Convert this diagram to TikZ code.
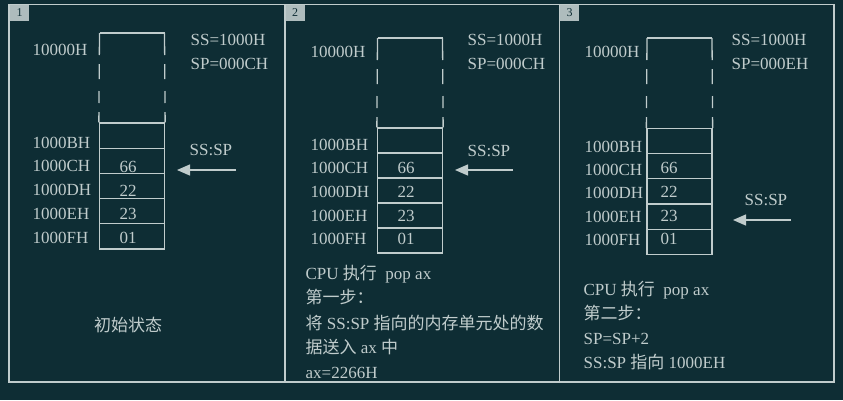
\documentclass[tikz,border=0pt]{standalone}
\usepackage{fontspec}
\setmainfont{Liberation Serif}
\newfontfamily\cjk{Noto Sans CJK SC}
\usetikzlibrary{arrows.meta}
\definecolor{board}{RGB}{14,45,52}
\definecolor{chalk}{RGB}{192,204,204}

\begin{document}
\begin{tikzpicture}[x=1pt,y=-1pt,line width=1.3pt,draw=chalk,
  every node/.style={text=chalk,inner sep=0pt,font=\fontsize{17}{20}\selectfont}]
\tikzstyle{cell}=[draw=chalk, minimum width=65pt, minimum height=25.2pt]
\tikzstyle{addr}=[anchor=west]
\tikzstyle{line}=[anchor=base west]
\tikzstyle{wall}=[dash pattern=on 22pt off 9pt on 15pt off 12pt on 12pt off 9pt on 12pt]
\tikzstyle{tag}=[fill=chalk!90!board, text=board, minimum width=19pt, minimum height=16pt,
  font=\fontsize{12}{12}\selectfont]
\tikzstyle{ptr}=[-{Triangle[length=13pt,width=11pt]}]

\fill[board] (0,0) rectangle (843,400);

% frames
\draw (9,4.5) rectangle (834,382);
\draw (285,4.5) -- (285,382);
\draw (559.5,4.5) -- (559.5,382);
\node[tag] (n1) at (19.5,12.5) {1};
\node[tag] (n2) at (295,12.5) {2};
\node[tag] (n3) at (569.5,12.5) {3};

% panel 1: initial state
\node[cell] (aB) at (132,135.6) {};
\node[cell] (aC) at (132,160.8) {};
\node[cell] (aD) at (132,186.0) {};
\node[cell] (aE) at (132,211.2) {};
\node[cell] (aF) at (132,236.4) {};
\draw (99.5,33) -- (164.5,33);
\draw[wall] (99.5,33) -- (aB.north west);
\draw[wall] (164.5,33) -- (aB.north east);

\node[addr] (a0) at (32, 50) {10000H};
\node[addr] (aBl) at (32,143) {1000BH};
\node[addr] (aCl) at (32,166) {1000CH};
\node[addr] (aDl) at (32,190) {1000DH};
\node[addr] (aEl) at (32,214) {1000EH};
\node[addr] (aFl) at (32,238) {1000FH};
\node (aCv) at (128,167) {66};
\node (aDv) at (128,191) {22};
\node (aEv) at (128,214) {23};
\node (aFv) at (128,238) {01};

\node[addr] (aSS) at (190,40) {SS=1000H};
\node[addr] (aSP) at (190,64) {SP=000CH};
\node[addr] (aPtr) at (189,150) {SS:SP};
\coordinate (aP1) at (236,170);
\coordinate (aP2) at (177,170);
\draw[ptr] (aP1) -- (aP2);
\node[anchor=base] (aTxt) at (128,331.5) {\cjk 初始状态};

% panel 2: pop ax, step one
\node[cell, minimum height=25pt] (bB) at (410,140.5) {};
\node[cell, minimum height=25pt] (bC) at (410,165.5) {};
\node[cell, minimum height=25pt] (bD) at (410,190.5) {};
\node[cell, minimum height=25pt] (bE) at (410,215.5) {};
\node[cell, minimum height=25pt] (bF) at (410,240.5) {};
\draw (377.5,38) -- (442.5,38);
\draw[wall] (377.5,38) -- (bB.north west);
\draw[wall] (442.5,38) -- (bB.north east);

\node[addr] (b0) at (310, 52) {10000H};
\node[addr] (bBl) at (310,145) {1000BH};
\node[addr] (bCl) at (310,168) {1000CH};
\node[addr] (bDl) at (310,192) {1000DH};
\node[addr] (bEl) at (310,216) {1000EH};
\node[addr] (bFl) at (310,239) {1000FH};
\node (bCv) at (406,168) {66};
\node (bDv) at (406,192) {22};
\node (bEv) at (406,216) {23};
\node (bFv) at (406,239) {01};

\node[addr] (bSS) at (467,40) {SS=1000H};
\node[addr] (bSP) at (467,64) {SP=000CH};
\node[addr] (bPtr) at (467,151) {SS:SP};
\coordinate (bP1) at (513,170);
\coordinate (bP2) at (455,170);
\draw[ptr] (bP1) -- (bP2);
\node[line] (bT1) at (305,279) {CPU {\cjk 执行}\ \ pop ax};
\node[line] (bT2) at (305,303) {\cjk 第一步：};
\node[line] (bT3) at (305,329) {{\cjk 将} SS:SP {\cjk 指向的内存单元处的数}};
\node[line] (bT4) at (305,353) {{\cjk 据送入} ax {\cjk 中}};
\node[line] (bT5) at (305,378) {ax=2266H};

% panel 3: pop ax, step two
\node[cell] (cB) at (679.5,141.0) {};
\node[cell] (cC) at (679.5,166.2) {};
\node[cell] (cD) at (679.5,191.4) {};
\node[cell] (cE) at (679.5,216.6) {};
\node[cell] (cF) at (679.5,241.8) {};
\draw (647,38) -- (712,38);
\draw[wall] (647,38) -- (cB.north west);
\draw[wall] (712,38) -- (cB.north east);

\node[addr] (c0) at (584, 52) {10000H};
\node[addr] (cBl) at (584,147) {1000BH};
\node[addr] (cCl) at (584,170) {1000CH};
\node[addr] (cDl) at (584,193) {1000DH};
\node[addr] (cEl) at (584,217) {1000EH};
\node[addr] (cFl) at (584,240) {1000FH};
\node (cCv) at (669,168) {66};
\node (cDv) at (669,192) {22};
\node (cEv) at (669,216) {23};
\node (cFv) at (669,239) {01};

\node[addr] (cSS) at (731,40) {SS=1000H};
\node[addr] (cSP) at (731,64) {SP=000EH};
\node[addr] (cPtr) at (744,200) {SS:SP};
\coordinate (cP1) at (791,220);
\coordinate (cP2) at (733,220);
\draw[ptr] (cP1) -- (cP2);
\node[line] (cT1) at (583,295) {CPU {\cjk 执行}\ \ pop ax};
\node[line] (cT2) at (583,319) {\cjk 第二步：};
\node[line] (cT3) at (583,344) {SP=SP+2};
\node[line] (cT4) at (583,368) {SS:SP {\cjk 指向} 1000EH};
\end{tikzpicture}
\end{document}
